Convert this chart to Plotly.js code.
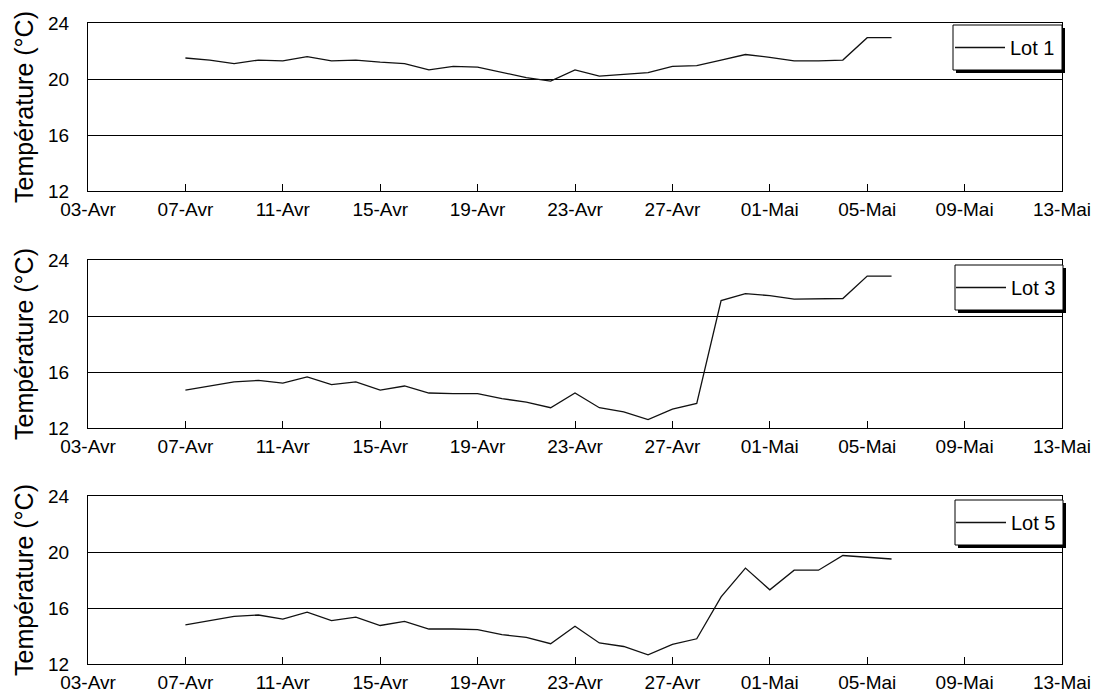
<!DOCTYPE html>
<html><head><meta charset="utf-8">
<script src="https://cdn.plot.ly/plotly-3.0.1.min.js"></script>
<style>html,body{margin:0;padding:0;background:#fff}#chart{width:1102px;height:696px}</style>
</head><body><div id="chart"></div>
<script>
const days = ['2009-04-07','2009-04-08','2009-04-09','2009-04-10','2009-04-11','2009-04-12','2009-04-13','2009-04-14','2009-04-15','2009-04-16',
  '2009-04-17','2009-04-18','2009-04-19','2009-04-20','2009-04-21','2009-04-22','2009-04-23','2009-04-24','2009-04-25','2009-04-26',
  '2009-04-27','2009-04-28','2009-04-29','2009-04-30','2009-05-01','2009-05-02','2009-05-03','2009-05-04','2009-05-05','2009-05-06'];
const lot1 = [21.5,21.35,21.1,21.35,21.3,21.6,21.3,21.35,21.2,21.1,
  20.65,20.9,20.85,20.5,20.1,19.85,20.65,20.2,20.3,20.45,
  20.9,20.95,21.35,21.75,21.55,21.3,21.3,21.35,22.95,22.95];
const lot3 = [14.7,15.0,15.3,15.4,15.2,15.65,15.1,15.3,14.7,15.0,
  14.5,14.45,14.45,14.1,13.85,13.45,14.5,13.45,13.15,12.6,
  13.35,13.75,21.1,21.6,21.45,21.2,21.2,21.25,22.85,22.85];
const lot5 = [14.8,15.1,15.4,15.5,15.2,15.7,15.1,15.35,14.75,15.05,
  14.5,14.5,14.45,14.1,13.9,13.45,14.7,13.5,13.25,12.65,
  13.4,13.8,16.8,18.85,17.3,18.7,18.7,19.75,19.6,19.5];
const seriesNames = ['Lot 1','Lot 3','Lot 5'];
const tickDates = ['2009-04-03','2009-04-07','2009-04-11','2009-04-15','2009-04-19','2009-04-23','2009-04-27','2009-05-01','2009-05-05','2009-05-09','2009-05-13'];
const tickLabels = ['03-Avr','07-Avr','11-Avr','15-Avr','19-Avr','23-Avr','27-Avr','01-Mai','05-Mai','09-Mai','13-Mai'];
const yTicks = [12,16,20,24];
const xRange = ['2009-04-03','2009-05-13'];
const yTitle = 'Température (°C)';

const W = 1102, H = 696;
const M = {l: 88, r: 40, t: 23, b: 32};
const pw = W - M.l - M.r, ph = H - M.t - M.b;
// panel pixel extents (top, bottom) in page coordinates
const panels = [[23, 191], [260, 428], [496, 664]];
const boxes = [[953, 1062, 25, 70], [955, 1063, 265, 310], [955, 1063, 500, 545]];
const py = p => (H - M.b - p) / ph;
const px = p => (p - M.l) / pw;

const series = [lot1, lot3, lot5];
const font = 'Liberation Sans, Arial, sans-serif';
const traces = series.map((s, i) => ({
  x: days, y: s, type: 'scatter', mode: 'lines', name: seriesNames[i],
  xaxis: i === 0 ? 'x' : 'x' + (i + 1), yaxis: i === 0 ? 'y' : 'y' + (i + 1),
  legend: i === 0 ? 'legend' : 'legend' + (i + 1),
  line: {color: '#111', width: 1.3}
}));

const layout = {
  width: W, height: H, margin: M, paper_bgcolor: '#fff', plot_bgcolor: '#fff',
  font: {family: font, color: '#000', size: 19},
  showlegend: true, shapes: []
};
panels.forEach((p, i) => {
  const sx = i === 0 ? '' : String(i + 1);
  layout['xaxis' + sx] = {
    type: 'date', range: xRange, domain: [0, 1], anchor: 'y' + sx,
    tickmode: 'array', tickvals: tickDates, ticktext: tickLabels,
    ticks: 'inside', ticklen: 7, tickcolor: '#000', tickwidth: 1,
    showline: true, linecolor: '#000', linewidth: 1, mirror: true,
    showgrid: false, zeroline: false, automargin: false,
    ticklabelstandoff: 1,
    tickfont: {family: font, size: 19, color: '#000'}
  };
  layout['yaxis' + sx] = {
    range: [12, 24], domain: [py(p[1]), py(p[0])], anchor: 'x' + sx,
    tickmode: 'array', tickvals: yTicks, ticks: '',
    showgrid: true, gridcolor: '#000', gridwidth: 1,
    showline: true, linecolor: '#000', linewidth: 1, mirror: true,
    zeroline: false, automargin: false, ticklabelstandoff: 14,
    tickfont: {family: font, size: 19, color: '#000'},
    title: {text: yTitle, font: {family: font, size: 25, color: '#000'}, standoff: 7}
  };
  const b = boxes[i];
  const dx = 3 / pw, dy = 3 / ph;
  layout.shapes.push({type: 'rect', xref: 'paper', yref: 'paper', layer: 'above',
    x0: px(b[0]) + dx, x1: px(b[1]) + dx, y0: py(b[3]) - dy, y1: py(b[2]) - dy,
    fillcolor: '#000', line: {width: 0}});
  layout.shapes.push({type: 'rect', xref: 'paper', yref: 'paper', layer: 'above',
    x0: px(b[0]), x1: px(b[1]), y0: py(b[3]), y1: py(b[2]),
    fillcolor: '#fff', line: {color: '#000', width: 1}});
  layout[i === 0 ? 'legend' : 'legend' + (i + 1)] = {
    x: px(b[1] - 2), xanchor: 'right', y: py((b[2] + b[3]) / 2), yanchor: 'middle',
    bgcolor: 'rgba(0,0,0,0)', borderwidth: 0, itemwidth: 50,
    font: {family: font, size: 20, color: '#000'}
  };
});

Plotly.newPlot('chart', traces, layout, {displayModeBar: false, staticPlot: true});
</script>
</body></html>
